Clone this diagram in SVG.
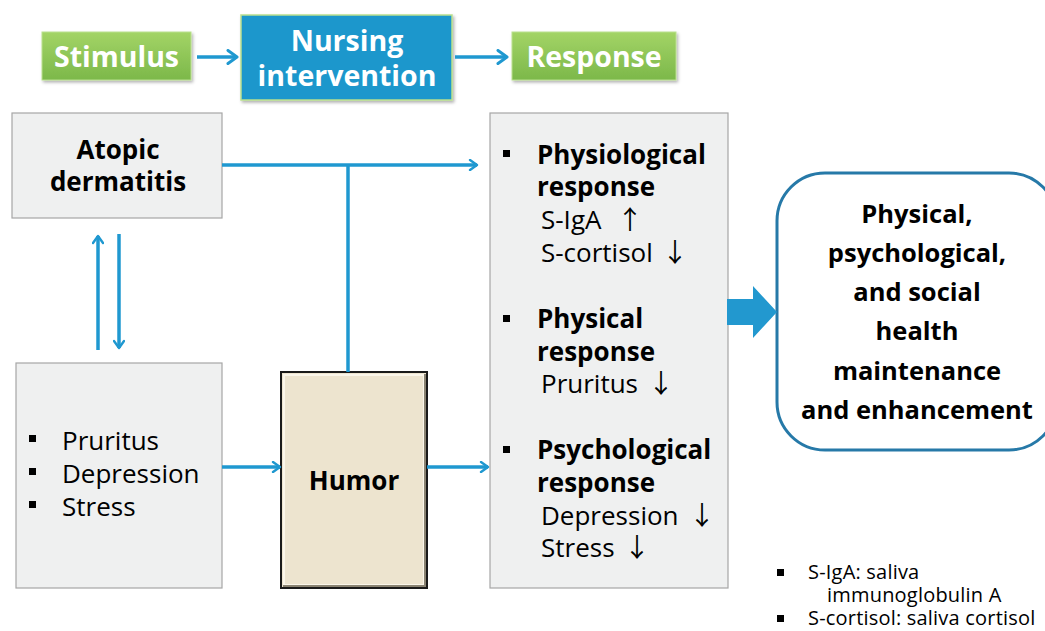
<svg xmlns="http://www.w3.org/2000/svg" width="1045" height="631" viewBox="0 0 1045 631">
  <defs>
    <linearGradient id="green" x1="0" y1="0" x2="0" y2="1">
      <stop offset="0" stop-color="#a3d466"/>
      <stop offset="1" stop-color="#7cb84a"/>
    </linearGradient>
    <filter id="shadow" x="-10%" y="-10%" width="130%" height="140%">
      <feDropShadow dx="1.5" dy="2" stdDeviation="1.5" flood-color="#000" flood-opacity="0.3"/>
    </filter>
    <marker id="chev" viewBox="0 0 12 12" refX="10" refY="6" markerWidth="12" markerHeight="12" markerUnits="userSpaceOnUse" orient="auto">
      <path d="M3,1 L10,6 L3,11" fill="none" stroke="#1f98d0" stroke-width="2.4" stroke-linecap="round" stroke-linejoin="round"/>
    </marker>
    <marker id="chevL" viewBox="0 0 16 16" refX="13" refY="8" markerWidth="16" markerHeight="16" markerUnits="userSpaceOnUse" orient="auto">
      <path d="M4,1.5 L13,8 L4,14.5" fill="none" stroke="#1f98d0" stroke-width="3" stroke-linecap="round" stroke-linejoin="round"/>
    </marker>
  </defs>
  <style>
    text { font-family: "Open Sans", "Noto Sans", "Liberation Sans", sans-serif; fill: #000; }
    .hdr { font-size: 28.5px; font-weight: bold; fill: #fff; text-anchor: middle; }
    .box { fill: #eff0f0; stroke: #a6a6a6; stroke-width: 1.2; }
    .b { font-weight: bold; font-size: 26px; }
    .r { font-size: 26px; }
    .o { font-weight: bold; font-size: 25.5px; }
    .c { text-anchor: middle; }
    .ar { font-family: "Noto Sans CJK KR", "DejaVu Sans", sans-serif; font-weight: normal; fill: #000; }
    .fn { font-size: 20px; letter-spacing: 0.2px; }
    .line { fill: none; stroke: #1f98d0; stroke-width: 3.5; }
    .bul { fill: #000; }
  </style>

  <rect width="1045" height="631" fill="#fff"/>

  <!-- header row -->
  <g id="stimulus">
    <rect x="42" y="32" width="149" height="48" fill="url(#green)" stroke="#b9df8e" stroke-width="1" filter="url(#shadow)"/>
    <text class="hdr" x="116.5" y="67">Stimulus</text>
  </g>
  <g id="nursing">
    <rect x="241" y="15" width="211" height="85" fill="#1f97cc" stroke="#b9df8e" stroke-width="1.5" filter="url(#shadow)"/>
    <text class="hdr" x="347" y="51">Nursing</text>
    <text class="hdr" x="347" y="86">intervention</text>
  </g>
  <g id="response">
    <rect x="512" y="32" width="164" height="48" fill="url(#green)" stroke="#b9df8e" stroke-width="1" filter="url(#shadow)"/>
    <text class="hdr" x="594" y="67">Response</text>
  </g>

  <!-- atopic dermatitis -->
  <g id="atopic">
    <rect class="box" x="12" y="113" width="210" height="105"/>
    <text class="b c" x="118" y="159">Atopic</text>
    <text class="b c" x="118" y="191">dermatitis</text>
  </g>

  <!-- symptoms -->
  <g id="symptoms">
    <rect class="box" x="16" y="363" width="206" height="225"/>
    <rect class="bul" x="29" y="435" width="7" height="7"/>
    <rect class="bul" x="29" y="468" width="7" height="7"/>
    <rect class="bul" x="29" y="501" width="7" height="7"/>
    <text class="r" x="62" y="450">Pruritus</text>
    <text class="r" x="62" y="483">Depression</text>
    <text class="r" x="62" y="516">Stress</text>
  </g>

  <!-- humor -->
  <g id="humor">
    <rect x="281" y="372" width="146" height="216" fill="#ede4cf" stroke="#1a1a1a" stroke-width="2"/>
    <rect x="284" y="375" width="140" height="210" fill="none" stroke="#fbf6ea" stroke-width="2"/>
    <path d="M425,374 V586 H283" fill="none" stroke="#8a8372" stroke-width="2"/>
    <text class="b c" x="354" y="490" font-size="26.5">Humor</text>
  </g>

  <!-- responses -->
  <g id="responses">
    <rect class="box" x="490" y="113" width="238" height="475"/>
    <rect class="bul" x="503" y="150" width="7" height="7"/>
    <text class="b" x="537" y="164">Physiological</text>
    <text class="b" x="537" y="196">response</text>
    <text class="r" x="541" y="229">S-IgA <tspan class="ar" x="617">↑</tspan></text>
    <text class="r" x="541" y="262">S-cortisol <tspan class="ar" x="662">↓</tspan></text>
    <rect class="bul" x="503" y="315" width="7" height="7"/>
    <text class="b" x="537" y="328">Physical</text>
    <text class="b" x="537" y="361">response</text>
    <text class="r" x="541" y="393">Pruritus <tspan class="ar" x="648">↓</tspan></text>
    <rect class="bul" x="503" y="446" width="7" height="7"/>
    <text class="b" x="537" y="459">Psychological</text>
    <text class="b" x="537" y="492">response</text>
    <text class="r" x="541" y="525">Depression <tspan class="ar" x="689">↓</tspan></text>
    <text class="r" x="541" y="557">Stress <tspan class="ar" x="624">↓</tspan></text>
  </g>

  <!-- outcome -->
  <g id="outcome">
    <rect x="777" y="173" width="280" height="277" rx="48" ry="48" fill="#fff" stroke="#2679a8" stroke-width="3"/>
    <text class="o c" x="917" y="223">Physical,</text>
    <text class="o c" x="917" y="262">psychological,</text>
    <text class="o c" x="917" y="301">and social</text>
    <text class="o c" x="917" y="340">health</text>
    <text class="o c" x="917" y="380">maintenance</text>
    <text class="o c" x="917" y="419">and enhancement</text>
  </g>

  <!-- footnote -->
  <g id="footnote">
    <rect class="bul" x="777" y="569" width="7" height="7"/>
    <text class="fn" x="808" y="579">S-IgA: saliva</text>
    <text class="fn" x="827" y="602">immunoglobulin A</text>
    <rect class="bul" x="777" y="615" width="7" height="7"/>
    <text class="fn" x="808" y="625">S-cortisol: saliva cortisol</text>
  </g>

  <!-- connectors -->
  <g id="connectors">
    <line class="line" x1="197" y1="57" x2="237" y2="57" marker-end="url(#chevL)"/>
    <line class="line" x1="455" y1="57" x2="507" y2="57" marker-end="url(#chevL)"/>
    <line class="line" x1="222" y1="165" x2="477" y2="165" marker-end="url(#chev)"/>
    <line class="line" x1="348" y1="165" x2="348" y2="372"/>
    <line class="line" x1="98" y1="350" x2="98" y2="236" marker-end="url(#chev)"/>
    <line class="line" x1="119" y1="234" x2="119" y2="348" marker-end="url(#chev)"/>
    <line class="line" x1="222" y1="467" x2="280" y2="467" marker-end="url(#chev)"/>
    <line class="line" x1="427" y1="467" x2="488" y2="467" marker-end="url(#chev)"/>
    <path d="M727,299 H753 V286 L777,312 L753,338 V325 H727 Z" fill="#2298cf"/>
  </g>
</svg>
